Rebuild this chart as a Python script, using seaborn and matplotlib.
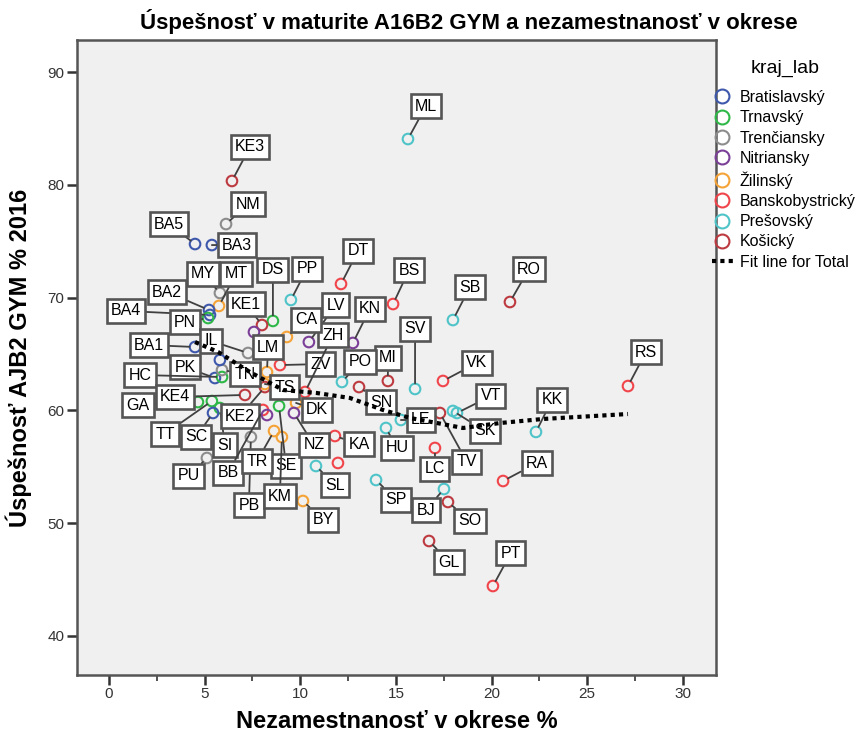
import pandas as pd
import seaborn as sns
import matplotlib.pyplot as plt
from matplotlib.lines import Line2D

# kraje (regions) and their SPSS-like colours
regions = ['Bratislavský', 'Trnavský', 'Trenčiansky', 'Nitriansky',
           'Žilinský', 'Banskobystrický', 'Prešovský', 'Košický']
region_colors = ['#3E58AC', '#2EB848', '#8C8C8C', '#7B3F98',
                 '#F5A337', '#F0454B', '#4FC4C8', '#BD3A40']

# districts: code, region index, unemployment %, AJB2 GYM success %
codes = ['ML', 'KE3', 'NM', 'BA5', 'BA3', 'MY', 'MT', 'DS', 'PP', 'DT',
         'BS', 'SB', 'RO', 'RS', 'KK', 'RA', 'PT', 'VK', 'VT', 'SK',
         'TV', 'LE', 'HU', 'SV', 'MI', 'PO', 'SN', 'ZV', 'LV', 'KN',
         'ZH', 'CA', 'DK', 'KE1', 'BA2', 'BA4', 'PN', 'BA1', 'IL', 'LM',
         'PK', 'HC', 'TN', 'TS', 'GA', 'TT', 'SI', 'SC', 'KE4', 'KE2',
         'BB', 'SE', 'PU', 'PB', 'TR', 'KM', 'NZ', 'KA', 'SL', 'BY',
         'SP', 'BJ', 'SO', 'LC', 'GL', '', '', '', '']
region_idx = [6, 7, 2, 0, 0, 2, 4, 1, 6, 5,
              5, 6, 7, 5, 6, 5, 5, 5, 6, 6,
              7, 6, 6, 6, 7, 6, 7, 5, 3, 3,
              5, 4, 4, 7, 0, 0, 1, 0, 2, 4,
              0, 1, 2, 4, 1, 1, 1, 0, 7, 7,
              5, 1, 2, 2, 4, 4, 3, 5, 6, 4,
              6, 6, 7, 5, 7, 0, 3, 3, 5]
unemployment = [15.63, 6.43, 6.12, 4.50, 5.38, 5.80, 5.75, 8.57, 9.51, 12.13,
                14.85, 17.98, 20.96, 27.13, 22.32, 20.60, 20.07, 17.46, 18.19, 17.98,
                17.30, 15.26, 14.48, 16.00, 14.58, 12.18, 13.07, 8.94, 10.45, 12.75,
                10.25, 9.30, 9.78, 8.00, 5.23, 5.28, 5.18, 4.50, 7.27, 8.26,
                5.54, 5.91, 5.91, 8.15, 4.65, 5.38, 5.80, 5.44, 7.11, 8.15,
                8.05, 8.89, 5.12, 7.42, 8.63, 9.04, 9.67, 11.81, 10.82, 10.14,
                13.96, 17.51, 17.72, 17.04, 16.73, 5.80, 7.58, 8.26, 11.97]
score = [84.06, 80.34, 76.52, 74.75, 74.66, 70.41, 69.26, 67.93, 69.79, 71.21,
         69.43, 68.01, 69.61, 62.16, 58.09, 53.74, 44.43, 62.61, 59.77, 59.95,
         59.77, 59.15, 58.44, 61.90, 62.61, 62.52, 62.07, 64.02, 66.06, 65.98,
         61.63, 66.51, 60.66, 67.57, 68.90, 68.46, 68.19, 65.62, 65.09, 63.40,
         62.87, 62.96, 63.58, 62.34, 60.74, 60.83, 60.21, 59.77, 61.37, 62.07,
         60.04, 60.39, 55.78, 57.64, 58.17, 57.64, 59.77, 57.73, 55.07, 51.97,
         53.83, 53.03, 51.88, 56.67, 48.42, 64.47, 66.95, 59.59, 55.34]

# loess fit line for total
fit_x = [4.50, 5.70, 7.37, 9.10, 10.87, 12.60, 14.32, 15.73, 17.15, 18.51,
         20.44, 22.69, 27.13]
fit_y = [66.06, 65.18, 63.40, 61.81, 61.54, 61.10, 60.04, 59.33, 58.88, 58.44,
         58.88, 59.24, 59.68]

# where each label box sits relative to its point (pixels, right / down)
label_offsets = {
    'ML': (18, -33), 'KE3': (18, -34), 'NM': (22, -20), 'BA5': (-26, -20),
    'BA3': (25, 0), 'MY': (-17, -19), 'MT': (17, -32), 'DS': (0, -51),
    'PP': (16, -31), 'DT': (17, -33), 'BS': (16, -34), 'SB': (17, -33),
    'RO': (19, -33), 'RS': (18, -34), 'KK': (16, -32), 'RA': (34, -18),
    'PT': (18, -33), 'VK': (34, -18), 'VT': (34, -17), 'SK': (32, 20),
    'TV': (27, 49), 'LE': (20, 0), 'HU': (11, 20), 'SV': (0, -60),
    'MI': (0, -23), 'PO': (18, -20), 'SN': (22, 15), 'ZV': (41, -1),
    'LV': (27, -37), 'KN': (17, -34), 'ZH': (28, -57), 'CA': (19, -17),
    'DK': (21, 7), 'KE1': (-16, -21), 'BA2': (-42, -18), 'BA4': (-84, -4),
    'PN': (-23, 4), 'BA1': (-46, -2), 'IL': (-37, -12), 'LM': (1, -25),
    'PK': (-30, -11), 'HC': (-82, -2), 'TN': (23, 4), 'TS': (20, 3),
    'GA': (-60, 3), 'TT': (-47, 33), 'SI': (5, 37), 'SC': (-17, 24),
    'KE4': (-70, 2), 'KE2': (-25, 29), 'BB': (-35, 63), 'SE': (7, 60),
    'PU': (-18, 18), 'PB': (-2, 68), 'TR': (-17, 30), 'KM': (-2, 59),
    'NZ': (20, 32), 'KA': (24, 8), 'SL': (19, 19), 'BY': (20, 19),
    'SP': (20, 20), 'BJ': (-18, 21), 'SO': (22, 19), 'LC': (0, 21),
    'GL': (20, 21),
}

df = pd.DataFrame({
    'code': codes,
    'kraj_lab': [regions[i] for i in region_idx],
    'nezam': unemployment,
    'ajb2': score,
})

plt.rcParams['font.family'] = ['Liberation Sans', 'DejaVu Sans']
narrow = ['Liberation Sans Narrow', 'Liberation Sans', 'DejaVu Sans']

fig = plt.figure(figsize=(8.64, 7.35), dpi=100)
ax = fig.add_axes([77 / 864, 1 - 675 / 735, 639 / 864, 635 / 735])
ax.set_facecolor('#F0F0F0')

sns.scatterplot(data=df, x='nezam', y='ajb2', hue='kraj_lab',
                hue_order=regions, palette=region_colors, s=58,
                linewidth=1.5, legend=False, ax=ax, zorder=2)
# hollow circles like SPSS
coll = ax.collections[0]
coll.set_edgecolors(coll.get_facecolors())
coll.set_facecolors('none')

sns.lineplot(x=fit_x, y=fit_y, color='black', lw=3,
             linestyle=(0, (1, 1)), ax=ax, zorder=6)

for code, xv, yv in zip(codes, unemployment, score):
    if not code:
        continue
    dx, dy = label_offsets[code]
    ax.annotate(code, xy=(xv, yv), xytext=(dx, -dy), textcoords='offset pixels',
                ha='center', va='center', fontsize=11.5, color='black', zorder=5,
                bbox=dict(boxstyle='square,pad=0.27', fc='white', ec='#555555', lw=1.9),
                arrowprops=dict(arrowstyle='-', color='#404040', lw=1.3,
                                shrinkA=0, shrinkB=4))

ax.set_xlim(-1.67, 31.73)
ax.set_ylim(36.54, 92.84)
ax.set_xticks(range(0, 31, 5))
ax.set_xticks([2.5, 7.5, 12.5, 17.5, 22.5, 27.5], minor=True)
ax.set_yticks(range(40, 91, 10))
ax.tick_params(axis='both', which='major', length=7, width=1.8, color='#333333',
               labelsize=11, pad=2)
ax.tick_params(axis='x', which='minor', length=4, width=1.2, color='#333333')
for lab in ax.get_xticklabels() + ax.get_yticklabels():
    lab.set_family(narrow)
    lab.set_color('#333333')
for side in ['left', 'bottom', 'top', 'right']:
    ax.spines[side].set_color('#555555')
    ax.spines[side].set_linewidth(1.8)

ax.set_xlabel('Nezamestnanosť v okrese %', fontsize=17, fontweight='bold', family=narrow)
ax.set_ylabel('Úspešnosť AJB2 GYM % 2016', fontsize=17, fontweight='bold', family=narrow)
ax.xaxis.set_label_coords(0.5, -0.055)
ax.yaxis.set_label_coords(-0.07, 0.5)

fig.text(0.543, 1 - 22 / 735, 'Úspešnosť v maturite A16B2 GYM a nezamestnanosť v okrese',
         ha='center', va='center', fontsize=16, fontweight='bold', family=narrow)

# legend: title set apart like SPSS, then the entries
fig.text(785 / 864, 1 - 68 / 735, 'kraj_lab', ha='center', va='center', fontsize=14)
handles = [Line2D([], [], marker='o', ls='', mfc='none', mec=c, ms=10, mew=1.5)
           for c in region_colors]
handles.append(Line2D([], [], color='black', lw=3, ls=(0, (1, 1))))
leg = fig.legend(handles, regions + ['Fit line for Total'], loc='upper left',
                 bbox_to_anchor=(0.824, 1 - 90 / 735), frameon=False, fontsize=11.5,
                 handlelength=1.3, handletextpad=0.45, labelspacing=0.33,
                 borderaxespad=0, borderpad=0)

fig.savefig('out.png', dpi=100)
